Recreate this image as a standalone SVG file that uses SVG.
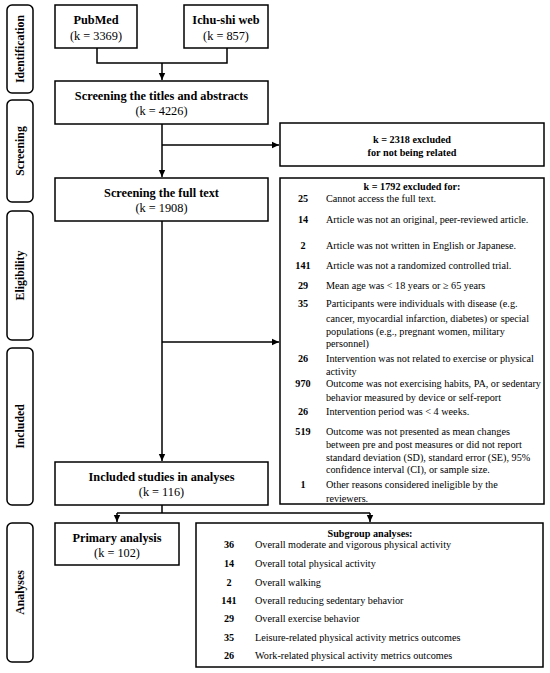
<svg xmlns="http://www.w3.org/2000/svg" width="550" height="673" viewBox="0 0 550 673">
<defs>
<marker id="arr" markerWidth="8" markerHeight="8" refX="7" refY="4" orient="auto" markerUnits="userSpaceOnUse">
<path d="M0,0.8 L7,4 L0,7.2 Z" fill="#000"/>
</marker>
<style>
.box{fill:#fff;stroke:#000;stroke-width:1.5}
.side{fill:#fff;stroke:#000;stroke-width:1.5}
.t{font-family:"Liberation Serif","Times New Roman",serif;fill:#000}
.ttl{font-size:12.3px;font-weight:bold;text-anchor:middle}
.sub{font-size:12.3px;text-anchor:middle}
.lab{font-size:11.8px;font-weight:bold;text-anchor:middle}
.hd{font-size:10.2px;font-weight:bold;text-anchor:middle}
.num{font-size:10.2px;font-weight:bold;text-anchor:middle}
.it{font-size:10.2px}
.ln{fill:none;stroke:#000;stroke-width:1.5}
</style>
</defs>
<rect width="550" height="673" fill="#fff"/>

<g id="stage-identification">
<rect class="side" x="7" y="5" width="26" height="88" rx="5"/>
<text class="t lab" transform="translate(24,49) rotate(-90)">Identification</text>
</g>
<g id="stage-screening">
<rect class="side" x="7" y="100" width="26" height="102" rx="5"/>
<text class="t lab" transform="translate(24,151) rotate(-90)">Screening</text>
</g>
<g id="stage-eligibility">
<rect class="side" x="7" y="211" width="26" height="129" rx="5"/>
<text class="t lab" transform="translate(24,275.5) rotate(-90)">Eligibility</text>
</g>
<g id="stage-included">
<rect class="side" x="7" y="348" width="26" height="157" rx="5"/>
<text class="t lab" transform="translate(24,426.5) rotate(-90)">Included</text>
</g>
<g id="stage-analyses">
<rect class="side" x="7" y="523" width="26" height="139" rx="5"/>
<text class="t lab" transform="translate(24,592.5) rotate(-90)">Analyses</text>
</g>

<g id="connectors">
<path class="ln" d="M97,48 V63 H227 V48"/>
<path class="ln" d="M162,63 V80" marker-end="url(#arr)"/>
<path class="ln" d="M162,124 V177" marker-end="url(#arr)"/>
<path class="ln" d="M162,145 H279" marker-end="url(#arr)"/>
<path class="ln" d="M162,221 V461" marker-end="url(#arr)"/>
<path class="ln" d="M162,342 H279" marker-end="url(#arr)"/>
<path class="ln" d="M162,505 V513"/>
<path class="ln" d="M117,513 H370"/>
<path class="ln" d="M117,513 V522" marker-end="url(#arr)"/>
<path class="ln" d="M370,513 V522" marker-end="url(#arr)"/>
</g>

<g id="pubmed">
<rect class="box" x="55" y="5" width="82" height="43"/>
<text class="t ttl" x="96" y="24">PubMed</text>
<text class="t sub" x="96" y="40">(k = 3369)</text>
</g>
<g id="ichushi">
<rect class="box" x="184" y="5" width="84" height="43"/>
<text class="t ttl" x="226" y="24">Ichu-shi web</text>
<text class="t sub" x="226" y="40">(k = 857)</text>
</g>
<g id="screen-titles">
<rect class="box" x="55" y="81" width="213" height="43"/>
<text class="t ttl" x="161.5" y="100">Screening the titles and abstracts</text>
<text class="t sub" x="161.5" y="115">(k = 4226)</text>
</g>
<g id="screen-full">
<rect class="box" x="55" y="178" width="213" height="43"/>
<text class="t ttl" x="161.5" y="197">Screening the full text</text>
<text class="t sub" x="161.5" y="212">(k = 1908)</text>
</g>
<g id="included">
<rect class="box" x="55" y="462" width="213" height="43"/>
<text class="t ttl" x="161.5" y="481">Included studies in analyses</text>
<text class="t sub" x="161.5" y="496">(k = 116)</text>
</g>
<g id="primary">
<rect class="box" x="55" y="523" width="124" height="42"/>
<text class="t ttl" x="117" y="542">Primary analysis</text>
<text class="t sub" x="117" y="557">(k = 102)</text>
</g>

<g id="excluded-1">
<rect class="box" x="280" y="123" width="264" height="43"/>
<text class="t hd" x="412" y="143">k = 2318 excluded</text>
<text class="t hd" x="412" y="156">for not being related</text>
</g>

<g id="excluded-2">
<rect class="box" x="280" y="178" width="264" height="326"/>
<text class="t hd" x="412" y="190">k = 1792 excluded for:</text>
<text class="t num" x="303" y="202">25</text>
<text class="t it" x="326" y="202">Cannot access the full text.</text>
<text class="t num" x="303" y="223">14</text>
<text class="t it" x="326" y="223">Article was not an original, peer-reviewed article.</text>
<text class="t num" x="303" y="249">2</text>
<text class="t it" x="326" y="249">Article was not written in English or Japanese.</text>
<text class="t num" x="303" y="269">141</text>
<text class="t it" x="326" y="269">Article was not a randomized controlled trial.</text>
<text class="t num" x="303" y="289">29</text>
<text class="t it" x="326" y="289">Mean age was &lt; 18 years or ≥ 65 years</text>
<text class="t num" x="303" y="307">35</text>
<text class="t it" x="326" y="307">Participants were individuals with disease (e.g.</text>
<text class="t it" x="326" y="322">cancer, myocardial infarction, diabetes) or special</text>
<text class="t it" x="326" y="335">populations (e.g., pregnant women, military</text>
<text class="t it" x="326" y="347">personnel)</text>
<text class="t num" x="303" y="362">26</text>
<text class="t it" x="326" y="362">Intervention was not related to exercise or physical</text>
<text class="t it" x="326" y="375">activity</text>
<text class="t num" x="303" y="387">970</text>
<text class="t it" x="326" y="387">Outcome was not exercising habits, PA, or sedentary</text>
<text class="t it" x="326" y="401">behavior measured by device or self-report</text>
<text class="t num" x="303" y="415">26</text>
<text class="t it" x="326" y="415">Intervention period was &lt; 4 weeks.</text>
<text class="t num" x="303" y="435">519</text>
<text class="t it" x="326" y="435">Outcome was not presented as mean changes</text>
<text class="t it" x="326" y="448">between pre and post measures or did not report</text>
<text class="t it" x="326" y="461">standard deviation (SD), standard error (SE), 95%</text>
<text class="t it" x="326" y="473">confidence interval (CI), or sample size.</text>
<text class="t num" x="303" y="488">1</text>
<text class="t it" x="326" y="488">Other reasons considered ineligible by the</text>
<text class="t it" x="326" y="502">reviewers.</text>
</g>

<g id="subgroup">
<rect class="box" x="196" y="523" width="347" height="144"/>
<text class="t hd" x="370" y="537">Subgroup analyses:</text>
<text class="t num" x="229" y="548">36</text>
<text class="t it" x="255" y="548">Overall moderate and vigorous physical activity</text>
<text class="t num" x="229" y="567">14</text>
<text class="t it" x="255" y="567">Overall total physical activity</text>
<text class="t num" x="229" y="586">2</text>
<text class="t it" x="255" y="586">Overall walking</text>
<text class="t num" x="229" y="604">141</text>
<text class="t it" x="255" y="604">Overall reducing sedentary behavior</text>
<text class="t num" x="229" y="622">29</text>
<text class="t it" x="255" y="622">Overall exercise behavior</text>
<text class="t num" x="229" y="641">35</text>
<text class="t it" x="255" y="641">Leisure-related physical activity metrics outcomes</text>
<text class="t num" x="229" y="659">26</text>
<text class="t it" x="255" y="659">Work-related physical activity metrics outcomes</text>
</g>
</svg>
